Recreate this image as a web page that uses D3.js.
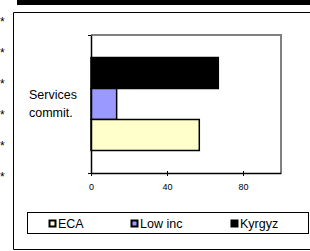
<!DOCTYPE html>
<html>
<head>
<meta charset="utf-8">
<script src="https://cdn.jsdelivr.net/npm/d3@7"></script>
<style>
body { margin: 0; background: #fff; }
text { font-family: "Liberation Sans", Arial, sans-serif; }
</style>
</head>
<body>
<div id="chart"></div>
<script>
var ctx = {
    w: 310,
    h: 251
};

var categories = ["Services commit."];
var series = ["Kyrgyz", "Low inc", "ECA"];
var values = [67, 13.5, 57];
var colors = ["#000000", "#9999ff", "#ffffcc"];
var legendOrder = ["ECA", "Low inc", "Kyrgyz"];
var tickValues = [0, 40, 80];
var starRows = [21, 52, 83, 114, 145, 176];

var createChart = function (svg) {
    // outer frame and the cut off header bar
    svg.append("rect")
        .attr("x", 17).attr("y", 0)
        .attr("width", 300).attr("height", 5)
        .style("fill", "#000");
    svg.append("path")
        .attr("d", "M320,12.5 H13.5 V249.5 H320")
        .style("fill", "none")
        .style("stroke", "#000")
        .style("stroke-width", 1);

    svg.selectAll("text.star")
        .data(starRows)
        .enter().append("text")
        .attr("class", "star")
        .attr("x", 0)
        .attr("y", function (d) { return d + 5; })
        .style("font-size", "12px")
        .text("*");

    var x = d3.scaleLinear().domain([0, 100]).range([91, 281]);
    var yCat = d3.scaleBand()
        .domain(categories)
        .range([35, 173])
        .paddingOuter(0.242);
    var ySer = d3.scaleBand()
        .domain(series)
        .range([0, yCat.bandwidth()]);

    // plot frame (grey top / right)
    svg.append("path")
        .attr("d", "M91," + 35 + " H281 V173")
        .style("fill", "none")
        .style("stroke", "#808080")
        .style("stroke-width", 2);

    var g = svg.append("g")
        .attr("transform", "translate(0," + yCat(categories[0]) + ")");
    g.selectAll("rect")
        .data(series)
        .enter().append("rect")
        .attr("x", x(0))
        .attr("y", function (d) { return ySer(d); })
        .attr("width", function (d, i) { return x(values[i]) - x(0); })
        .attr("height", ySer.bandwidth())
        .style("fill", function (d, i) { return colors[i]; })
        .style("stroke", "#000")
        .style("stroke-width", 1.5);

    var xAxis = d3.axisBottom(x)
        .tickValues(tickValues)
        .tickSize(3)
        .tickSizeOuter(0)
        .tickPadding(8);
    var gx = svg.append("g")
        .attr("transform", "translate(0,173)")
        .call(xAxis);
    gx.select(".domain").style("stroke-width", 1.5);
    gx.selectAll(".tick line").attr("y1", -2);
    gx.selectAll("text")
        .style("font-family", "'Liberation Sans', Arial, sans-serif")
        .style("font-size", "9px");

    var yEdge = d3.scaleLinear().domain([0, 1]).range([173, 35]);
    var gy = svg.append("g")
        .attr("transform", "translate(91,0)")
        .call(d3.axisLeft(yEdge).tickValues([0, 1]).tickFormat("").tickSize(3).tickSizeOuter(0));
    gy.select(".domain").style("stroke-width", 1.5);

    var label = svg.append("text")
        .attr("x", 29)
        .attr("y", 99)
        .style("font-size", "12.5px");
    label.append("tspan").attr("x", 29).attr("y", 99).text("Services");
    label.append("tspan").attr("x", 29).attr("y", 117).text("commit.");

    // legend
    svg.append("rect")
        .attr("x", 27.5).attr("y", 212.5)
        .attr("width", 281).attr("height", 21)
        .style("fill", "#fff")
        .style("stroke", "#000");
    var legX = [49, 131, 231];
    var lg = svg.selectAll("g.leg")
        .data(legendOrder)
        .enter().append("g")
        .attr("class", "leg")
        .attr("transform", function (d, i) { return "translate(" + legX[i] + ",219)"; });
    lg.append("rect")
        .attr("x", 0.5).attr("y", 1.5)
        .attr("width", 6).attr("height", 6)
        .style("fill", function (d) { return colors[series.indexOf(d)]; })
        .style("stroke", "#000")
        .style("stroke-width", 2);
    lg.append("text")
        .attr("x", 9)
        .attr("y", 9)
        .style("font-size", "12.5px")
        .text(function (d) { return d; });
};

var createViz = function () {
    var svg = d3.select("#chart").append("svg")
        .attr("width", ctx.w)
        .attr("height", ctx.h);
    createChart(svg);
};

createViz();
</script>
</body>
</html>
